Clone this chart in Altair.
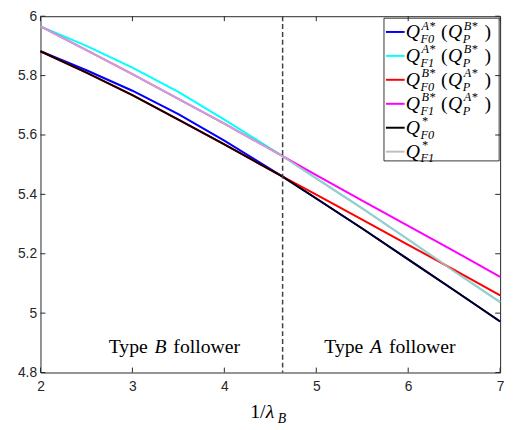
import altair as alt
import pandas as pd

# ---------------- data ----------------
x_vals = [2, 2.5, 3, 3.5, 4, 4.634, 5, 5.5, 6, 6.5, 7]
q_f0_a = [5.882, 5.818, 5.749, 5.670, 5.581, 5.460, 5.386, 5.285, 5.181, 5.077, 4.972]   # blue
q_f1_a = [5.966, 5.900, 5.827, 5.745, 5.652, 5.529, 5.454, 5.353, 5.248, 5.141, 5.037]   # cyan
q_f0_b = [5.882, 5.810, 5.734, 5.652, 5.568, 5.460, 5.399, 5.315, 5.230, 5.146, 5.060]   # red
q_f1_b = [5.966, 5.886, 5.805, 5.722, 5.638, 5.529, 5.465, 5.379, 5.294, 5.209, 5.122]   # magenta
q_f0_s = [5.882, 5.810, 5.734, 5.652, 5.568, 5.460, 5.386, 5.285, 5.181, 5.077, 4.972]   # black
q_f1_s = [5.966, 5.886, 5.805, 5.722, 5.638, 5.529, 5.454, 5.353, 5.248, 5.141, 5.037]   # gray

switch_x = [4.634]
x_ticks = [2, 3, 4, 5, 6, 7]
y_ticks = [4.8, 5.0, 5.2, 5.4, 5.6, 5.8, 6.0]

legend_sup1 = ["A*", "A*", "B*", "B*", "*", "*"]
legend_sub1 = ["F0", "F1", "F0", "F1", "F0", "F1"]
legend_sup2 = ["B*", "B*", "A*", "A*", "", ""]
legend_sub2 = ["P", "P", "P", "P", "", ""]

# ---------------- style ----------------
W, H = 467, 362
AX = "#262626"
SERIF = "Liberation Serif"
SANS = "Liberation Sans"
COLORS = ["#0000ff", "#00ffff", "#ff0000", "#ff00ff", "#000000", "#bfbfbf"]

xs = alt.Scale(domain=[2, 7], nice=False, zero=False)
ys = alt.Scale(domain=[4.8, 6], nice=False, zero=False)

xaxis = alt.Axis(values=x_ticks, format="d", domain=False, ticks=False, grid=False,
                 labelFont=SANS, labelFontSize=14, labelColor=AX, labelPadding=7,
                 labelFlush=False, labelOverlap=False, title=None)
yaxis = alt.Axis(values=y_ticks, format="~g", domain=False, ticks=False, grid=False,
                 labelFont=SANS, labelFontSize=14, labelColor=AX, labelPadding=4,
                 labelOverlap=False, title=None)

X = lambda f: alt.X(f, scale=xs, axis=xaxis)
Y = lambda f: alt.Y(f, scale=ys, axis=yaxis)

one = pd.DataFrame({"k": [0]})


def line_layer(vals, color, opacity=1.0):
    df = pd.DataFrame({"x": x_vals, "y": vals})
    return alt.Chart(df).mark_line(color=color, strokeWidth=2, opacity=opacity).encode(
        x=X("x:Q"), y=Y("y:Q"))


def txt(s, px, py, size, italic=False, align="left", font=SERIF, color="black"):
    return alt.Chart(one).mark_text(text=s, align=align, baseline="alphabetic", font=font,
                                    fontSize=size, fontStyle="italic" if italic else "normal",
                                    color=color).encode(x=alt.value(px), y=alt.value(py))


layers = [
    line_layer(q_f0_a, COLORS[0]),
    line_layer(q_f1_a, COLORS[1]),
    line_layer(q_f0_b, COLORS[2]),
    line_layer(q_f1_b, COLORS[3]),
    line_layer(q_f0_s, COLORS[4], opacity=0.92),
    line_layer(q_f1_s, COLORS[5], opacity=0.85),
]

# dashed switch line
layers.append(alt.Chart(pd.DataFrame({"x": switch_x})).mark_rule(
    color="#404040", strokeWidth=1.5, strokeDash=[5, 3]).encode(
    x=X("x:Q"), y=alt.value(0), y2=alt.value(H)))

# region labels
for letter, center in [("B", 122), ("A", 341)]:
    layers.append(txt("Type", center - 13, 342, 20, align="right"))
    layers.append(txt(letter, center, 342, 20, italic=True, align="center"))
    layers.append(txt("follower", center + 13, 342, 20))

# x title 1/λ_B
layers.append(txt("1/", 213, 408, 20))
layers.append(txt("λ", 229, 408, 20, italic=True))
layers.append(txt("B", 241, 413, 14, italic=True))

# legend box
layers.append(alt.Chart(one).mark_rect(fill="white", stroke="black", strokeWidth=0.8).encode(
    x=alt.value(349), x2=alt.value(466), y=alt.value(2), y2=alt.value(147)))

rows = [16, 40.3, 64.6, 89, 113.3, 137.6]
for i, r in enumerate(rows):
    layers.append(alt.Chart(one).mark_rule(color=COLORS[i], strokeWidth=2).encode(
        x=alt.value(351), x2=alt.value(370), y=alt.value(r)))
    layers.append(txt("Q", 371, r + 6.5, 20, italic=True))
    layers.append(txt(legend_sup1[i], 387, r - 2.5, 12.5, italic=True))
    layers.append(txt(legend_sub1[i], 386, r + 11, 12.5, italic=True))
    if legend_sup2[i]:
        layers.append(txt("(", 407, r + 6.5, 20))
        layers.append(txt("Q", 414, r + 6.5, 20, italic=True))
        layers.append(txt(legend_sup2[i], 430, r - 2.5, 12.5, italic=True))
        layers.append(txt(legend_sub2[i], 429, r + 11, 12.5, italic=True))
        layers.append(txt(")", 451, r + 6.5, 20))

# inward ticks on all four sides
xt = pd.DataFrame({"x": x_ticks})
yt = pd.DataFrame({"y": y_ticks})
layers.append(alt.Chart(xt).mark_rule(color=AX, strokeWidth=1).encode(
    x=X("x:Q"), y=alt.value(H), y2=alt.value(H - 5)))
layers.append(alt.Chart(xt).mark_rule(color=AX, strokeWidth=1).encode(
    x=X("x:Q"), y=alt.value(0), y2=alt.value(5)))
layers.append(alt.Chart(yt).mark_rule(color=AX, strokeWidth=1).encode(
    y=Y("y:Q"), x=alt.value(0), x2=alt.value(5)))
layers.append(alt.Chart(yt).mark_rule(color=AX, strokeWidth=1).encode(
    y=Y("y:Q"), x=alt.value(W), x2=alt.value(W - 5)))

chart = alt.layer(*layers).properties(
    width=W, height=H,
    autosize=alt.AutoSizeParams(type="none"),
    padding={"left": 33, "top": 5, "right": 8, "bottom": 52},
    background="white",
).configure_view(stroke=AX, strokeWidth=1)

chart.save("out.html", embed_options={"renderer": "svg", "actions": False})
